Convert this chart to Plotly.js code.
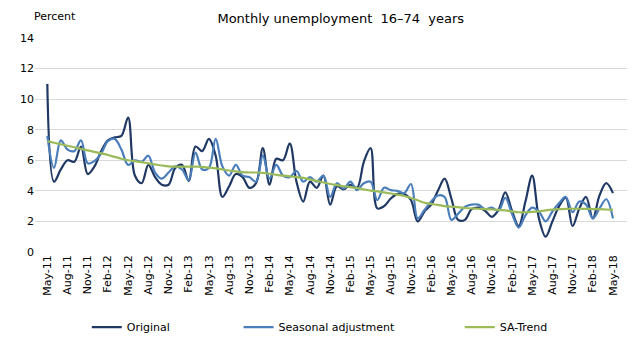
<!DOCTYPE html>
<html>
<head>
<meta charset="utf-8">
<script src="https://cdn.plot.ly/plotly-3.0.1.min.js"></script>
<style>html,body{margin:0;padding:0;background:#fff;}#chart{width:643px;height:340px;}</style>
</head>
<body>
<div id="chart"></div>
<script>
const months = ["May-11","Jun-11","Jul-11","Aug-11","Sep-11","Oct-11","Nov-11","Dec-11",
"Jan-12","Feb-12","Mar-12","Apr-12","May-12","Jun-12","Jul-12","Aug-12","Sep-12","Oct-12","Nov-12","Dec-12",
"Jan-13","Feb-13","Mar-13","Apr-13","May-13","Jun-13","Jul-13","Aug-13","Sep-13","Oct-13","Nov-13","Dec-13",
"Jan-14","Feb-14","Mar-14","Apr-14","May-14","Jun-14","Jul-14","Aug-14","Sep-14","Oct-14","Nov-14","Dec-14",
"Jan-15","Feb-15","Mar-15","Apr-15","May-15","Jun-15","Jul-15","Aug-15","Sep-15","Oct-15","Nov-15","Dec-15",
"Jan-16","Feb-16","Mar-16","Apr-16","May-16","Jun-16","Jul-16","Aug-16","Sep-16","Oct-16","Nov-16","Dec-16",
"Jan-17","Feb-17","Mar-17","Apr-17","May-17","Jun-17","Jul-17","Aug-17","Sep-17","Oct-17","Nov-17","Dec-17",
"Jan-18","Feb-18","Mar-18","Apr-18","May-18"];

const tickLabels = ["May-11","Aug-11","Nov-11","Feb-12","May-12","Aug-12","Nov-12","Feb-13","May-13","Aug-13",
"Nov-13","Feb-14","May-14","Aug-14","Nov-14","Feb-15","May-15","Aug-15","Nov-15","Feb-16","May-16","Aug-16",
"Nov-16","Feb-17","May-17","Aug-17","Nov-17","Feb-18","May-18"];

const original = [11.0,4.6,5.4,6.0,5.9,6.9,5.1,5.6,6.6,7.3,7.5,7.6,8.8,5.0,4.5,5.7,4.9,4.4,4.4,5.5,
5.7,4.65,6.9,6.6,7.4,6.3,3.6,4.3,5.1,4.9,4.2,4.5,6.8,4.4,6.1,6.0,7.1,4.6,3.3,4.6,
4.2,5.0,3.1,4.3,4.1,4.4,4.2,5.9,6.8,2.85,3.0,3.5,3.8,3.8,3.4,2.0,2.65,3.1,4.0,4.8,
3.5,2.1,2.1,2.8,2.9,2.7,2.3,2.75,3.9,2.7,1.7,3.3,5.0,2.2,1.0,2.0,3.0,3.55,1.7,2.85,
3.6,2.2,3.7,4.5,3.85];

const seasonal = [7.6,5.5,7.3,6.7,6.6,7.3,5.8,5.95,6.45,7.25,7.4,6.7,5.7,6.0,5.9,6.3,5.2,4.8,5.2,5.6,
5.4,4.7,6.5,5.4,5.5,7.4,5.6,5.0,5.7,5.0,4.9,4.6,6.3,4.8,5.7,5.0,4.9,5.3,4.6,4.9,
4.6,5.0,3.6,4.5,4.15,4.6,4.05,4.5,4.6,3.4,4.2,4.05,4.0,3.85,4.45,2.2,2.75,3.3,3.7,3.6,
2.1,2.5,2.95,3.1,3.1,2.8,2.9,2.7,3.55,2.5,1.6,2.4,2.9,2.65,2.0,2.65,3.2,3.6,2.6,3.3,
3.1,2.2,2.85,3.45,2.2];

const trend = [7.25,7.15,7.05,6.95,6.85,6.75,6.65,6.55,6.45,6.35,6.22,6.1,6.0,5.95,5.88,5.8,5.73,5.66,5.6,5.58,
5.58,5.58,5.58,5.57,5.52,5.47,5.4,5.33,5.27,5.22,5.2,5.2,5.18,5.12,5.05,5.0,4.95,4.9,4.85,4.75,
4.65,4.55,4.45,4.38,4.3,4.25,4.18,4.1,4.02,3.97,3.9,3.83,3.75,3.66,3.53,3.38,3.22,3.15,3.08,3.0,
2.96,2.93,2.88,2.85,2.83,2.8,2.78,2.76,2.72,2.66,2.6,2.6,2.62,2.66,2.72,2.77,2.8,2.82,2.83,2.83,
2.82,2.81,2.8,2.78,2.76];

const FONT = "Verdana, 'DejaVu Sans', sans-serif";

const traces = [
  {x: months, y: original, name: "Original", type: "scatter", mode: "lines",
   line: {color: "#1F3864", width: 2.2, shape: "spline", smoothing: 1}, legend: "legend"},
  {x: months, y: seasonal, name: "Seasonal adjustment", type: "scatter", mode: "lines",
   line: {color: "#4A7EBB", width: 2.2, shape: "spline", smoothing: 1}, legend: "legend2"},
  {x: months, y: trend, name: "SA-Trend", type: "scatter", mode: "lines",
   line: {color: "#9BBB59", width: 2.2, shape: "spline", smoothing: 1}, legend: "legend3"}
];

const legendBase = {orientation: "h", yref: "container", xref: "container", yanchor: "middle", xanchor: "left", y: 0.038,
  font: {family: FONT, size: 11, color: "#000"}, bgcolor: "rgba(0,0,0,0)", traceorder: "normal"};

const layout = {
  width: 643, height: 340,
  margin: {l: 35, r: 16, t: 38, b: 88, autoexpand: false},
  paper_bgcolor: "#fff", plot_bgcolor: "#fff",
  font: {family: FONT, size: 11, color: "#000"},
  title: {text: "Monthly unemployment\u00a0 16\u201374\u00a0 years", font: {family: FONT, size: 13, color: "#000"},
          x: 0.53, xanchor: "center", y: 0.947, yanchor: "middle"},
  xaxis: {type: "category", range: [-1.83, 86.08], tickmode: "array", tickvals: tickLabels, ticktext: tickLabels,
          tickangle: -90, showgrid: false, zeroline: false, showline: false, ticks: "", automargin: false,
          tickfont: {family: FONT, size: 11, color: "#000"}, fixedrange: true},
  yaxis: {range: [0, 14], dtick: 2, showgrid: true, gridcolor: "#D9D9D9", gridwidth: 1, automargin: false,
          zeroline: false, showline: false, ticks: "", tickfont: {family: FONT, size: 11, color: "#000"},
          fixedrange: true},
  showlegend: true,
  legend: Object.assign({}, legendBase, {x: 0.135}),
  legend2: Object.assign({}, legendBase, {x: 0.371}),
  legend3: Object.assign({}, legendBase, {x: 0.715}),
  annotations: [{text: "Percent", xref: "paper", yref: "paper", x: -0.005, y: 1.1, xanchor: "left", yanchor: "middle",
                 showarrow: false, font: {family: FONT, size: 11, color: "#000"}}]
};

Plotly.newPlot("chart", traces, layout, {displayModeBar: false, staticPlot: true});
</script>
</body>
</html>
